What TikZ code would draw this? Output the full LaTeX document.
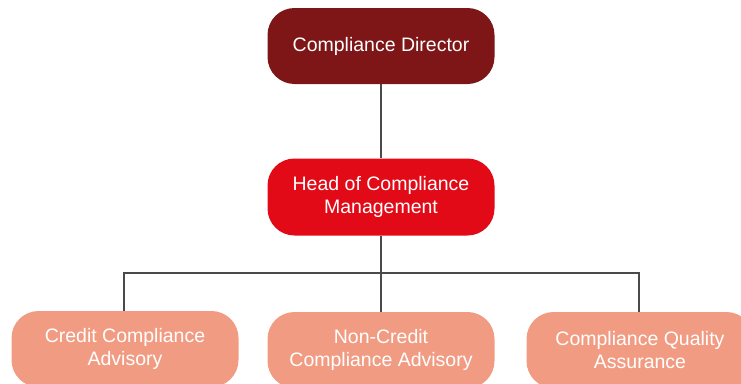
\documentclass[tikz,border=0pt]{standalone}
\usepackage{fontspec}
\setmainfont{Liberation Sans}
\definecolor{cdark}{HTML}{7E1517}
\definecolor{cred}{HTML}{E20A17}
\definecolor{csalmon}{HTML}{F19C82}
\definecolor{cline}{HTML}{4A4A4A}
\begin{document}
\begin{tikzpicture}[x=1pt,y=-1pt,
  orgbox/.style={rectangle, rounded corners=27pt, minimum width=227pt, minimum height=76pt,
    text=white, align=center, inner sep=0pt, font=\fontsize{19.5}{22.5}\selectfont},
  conn/.style={draw=cline, line width=1.3pt}]
\useasboundingbox (0,0) rectangle (741,383);
\clip (0,0) rectangle (741,383);
\node[orgbox, fill=cdark] (dir) at (381,46) {Compliance Director};
\node[orgbox, fill=cred, minimum height=77pt] (head) at (381,197) {Head of Compliance\\Management};
\node[orgbox, fill=csalmon] (b1) at (125,349) {Credit Compliance\\Advisory};
\node[orgbox, fill=csalmon] (b2) at (381,350) {Non-Credit\\Compliance Advisory};
\node[orgbox, fill=csalmon] (b3) at (640,350) {Compliance Quality\\Assurance};
\coordinate (bus) at (381,273);
\draw[conn] (dir.south) -- (head.north);
\draw[conn] (head.south) -- (b2.north);
\draw[conn] ([xshift=-1pt]b1.north) -- ([xshift=-1pt]b1.north |- bus) -- ([xshift=-1pt]b3.north |- bus) -- ([xshift=-1pt]b3.north);
\end{tikzpicture}
\end{document}
